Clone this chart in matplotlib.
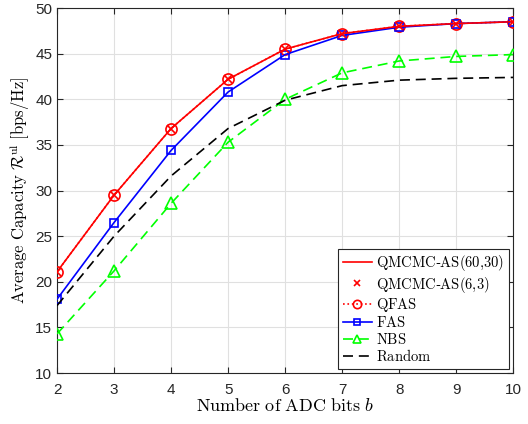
import matplotlib
matplotlib.use("Agg")
import matplotlib.pyplot as plt

bits = [2, 3, 4, 5, 6, 7, 8, 9, 10]
qmcmc_60_30 = [21.1, 29.5, 36.8, 42.2, 45.5, 47.2, 48.0, 48.3, 48.5]
qmcmc_6_3 = [21.1, 29.5, 36.8, 42.2, 45.5, 47.2, 48.0, 48.3, 48.5]
qfas = [21.1, 29.5, 36.8, 42.2, 45.5, 47.2, 48.0, 48.3, 48.5]
fas = [18.1, 26.5, 34.4, 40.8, 44.9, 47.0, 47.9, 48.3, 48.5]
nbs = [14.3, 21.2, 28.6, 35.3, 40.0, 42.9, 44.2, 44.7, 44.9]
rnd = [17.4, 25.0, 31.6, 36.8, 39.9, 41.5, 42.1, 42.3, 42.4]

plt.rcParams['mathtext.fontset'] = 'cm'
plt.rcParams['font.family'] = ['Liberation Sans', 'DejaVu Sans']

fig = plt.figure(figsize=(5.28, 4.24), dpi=100)
ax = fig.add_axes([0.108, 0.12, 0.864, 0.861])

ax.plot(bits, qfas, color='red', linestyle=':', marker='o', markersize=8,
        markerfacecolor='none', markeredgewidth=1.2, linewidth=1.2, label='QFAS', zorder=3)
ax.plot(bits, qmcmc_60_30, color='red', linestyle='-', linewidth=1.2,
        label='QMCMC-AS(60,30)', zorder=4)
ax.plot(bits, qmcmc_6_3, color='red', linestyle='none', marker='x', markersize=6,
        markeredgewidth=1.2, label='QMCMC-AS(6,3)', zorder=5)
ax.plot(bits, fas, color='blue', linestyle='-', marker='s', markersize=6,
        markerfacecolor='none', markeredgewidth=1.2, linewidth=1.2, label='FAS', zorder=3)
ax.plot(bits, nbs, color='#00ff00', linestyle=(0, (6, 3.5)), marker='^', markersize=8,
        markerfacecolor='none', markeredgewidth=1.2, linewidth=1.2, label='NBS', zorder=3)
ax.plot(bits, rnd, color='black', linestyle=(0, (6, 3.5)), linewidth=1.2,
        label='Random', zorder=3)

ax.set_xlim(2, 10)
ax.set_ylim(10, 50)
ax.set_xticks(bits)
ax.set_yticks(range(10, 51, 5))
ax.tick_params(direction='in', top=True, right=True, labelsize=11, length=4,
               colors='#262626', width=0.8)
ax.tick_params(axis='x', pad=7)
for lab in ax.get_xticklabels() + ax.get_yticklabels():
    lab.set_color('#262626')
ax.grid(True, color='#e0e0e0', linewidth=0.8)
ax.set_axisbelow(True)
for s in ax.spines.values():
    s.set_color('#262626')
    s.set_linewidth(0.8)

ax.set_xlabel(r'$\mathrm{Number\ of\ ADC\ bits}\ b$', fontsize=13, labelpad=1)
ax.set_ylabel(r'$\mathrm{Average\ Capacity}\ \mathcal{R}^{\mathrm{ul}}\ [\mathrm{bps/Hz}]$',
              fontsize=12, labelpad=2)

handles, labels = ax.get_legend_handles_labels()
order = ['QMCMC-AS(60,30)', 'QMCMC-AS(6,3)', 'QFAS', 'FAS', 'NBS', 'Random']
hmap = dict(zip(labels, handles))
disp = {
    'QMCMC-AS(60,30)': r'$\mathrm{QMCMC}$-$\mathrm{AS(60{,}30)}$',
    'QMCMC-AS(6,3)': r'$\mathrm{QMCMC}$-$\mathrm{AS(6{,}3)}$',
    'QFAS': r'$\mathrm{QFAS}$',
    'FAS': r'$\mathrm{FAS}$',
    'NBS': r'$\mathrm{NBS}$',
    'Random': r'$\mathrm{Random}$',
}
leg = ax.legend([hmap[k] for k in order], [disp[k] for k in order], loc='lower right',
                fontsize=10.5, frameon=True, fancybox=False, edgecolor='#262626',
                framealpha=1, borderpad=0.3, labelspacing=0.1, handlelength=2.0,
                handletextpad=0.3, borderaxespad=0.3, markerscale=0.75)
leg.get_frame().set_linewidth(0.8)

fig.savefig('out.png', dpi=100)
